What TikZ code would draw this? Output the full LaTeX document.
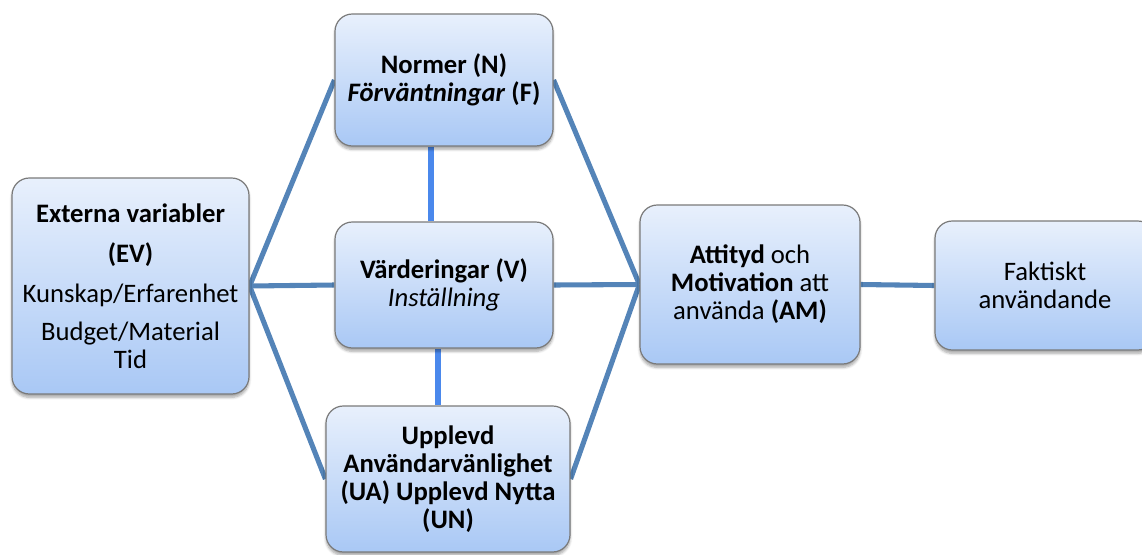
\documentclass[tikz,border=0pt]{standalone}
\usepackage{fontspec}
\setmainfont{Carlito}
\usetikzlibrary{shadows.blur,backgrounds}
\definecolor{linkc}{HTML}{5484B8}
\definecolor{vlinkc}{HTML}{4A88EC}
\definecolor{boxtop}{HTML}{E8F0FC}
\definecolor{boxbot}{HTML}{A9C8F5}
\definecolor{boxdraw}{HTML}{7A7A7A}
\newcommand\bxfont{\fontsize{20}{21}\selectfont\lineskiplimit=-100pt\relax}
\tikzset{
  box/.style={draw=boxdraw, line width=0.9pt, rounded corners=13pt,
    top color=boxtop, bottom color=boxbot, align=center, inner sep=0pt,
    font=\bxfont,
    blur shadow={shadow xshift=0pt, shadow yshift=-2.5pt, shadow blur steps=6, shadow opacity=35}},
  link/.style={draw=linkc, line width=3.8pt},
  vlink/.style={draw=vlinkc, line width=4.5pt},
}
\begin{document}
\begin{tikzpicture}[x=0.75pt,y=-0.75pt]
\useasboundingbox (0,0) rectangle (1142,554);
\clip (0,0) rectangle (1142,554);
\node[box, minimum width=177.75pt, minimum height=162pt] (ev) at (130.5,286)
  {\textbf{Externa variabler}\\[9pt]\textbf{(EV)}\\[9pt]Kunskap/Erfarenhet\\[8pt]Budget/Material\\[-0.5pt]Tid};
\node[box, minimum width=163.5pt, minimum height=99pt] (n) at (444,80)
  {\textbf{Normer (N)}\\\textbf{\textit{Förväntningar} (F)}};
\node[box, minimum width=163.5pt, minimum height=94.5pt] (v) at (444,285)
  {\textbf{Värderingar (V)}\\\textit{Inställning}};
\node[box, minimum width=183pt, minimum height=109.5pt] (ua) at (448,479)
  {\textbf{Upplevd}\\\textbf{Användarvänlighet}\\\textbf{(UA) Upplevd Nytta}\\\textbf{(UN)}};
\node[box, minimum width=165pt, minimum height=119.25pt] (am) at (750,284.5)
  {\textbf{Attityd} och\\\textbf{Motivation} att\\använda \textbf{(AM)}};
\node[box, minimum width=165pt, minimum height=96.75pt] (fa) at (1045,285.5)
  {Faktiskt\\användande};
\begin{scope}[on background layer]
  \draw[link] (ev.east) -- (n.west);
  \draw[link] (ev.east) -- (v.west);
  \draw[link] (ev.east) -- (ua.west);
  \draw[link] (n.east) -- (am.west);
  \draw[link] (v.east) -- (am.west);
  \draw[link] (ua.east) -- (am.west);
  \draw[link] (am.east) -- (fa.west);
  \coordinate (nvx) at (431,0);
  \coordinate (vux) at (438,0);
  \draw[vlink] (n.south -| nvx) -- (v.north -| nvx);
  \draw[vlink] (v.south -| vux) -- (ua.north -| vux);
\end{scope}
\end{tikzpicture}
\end{document}
